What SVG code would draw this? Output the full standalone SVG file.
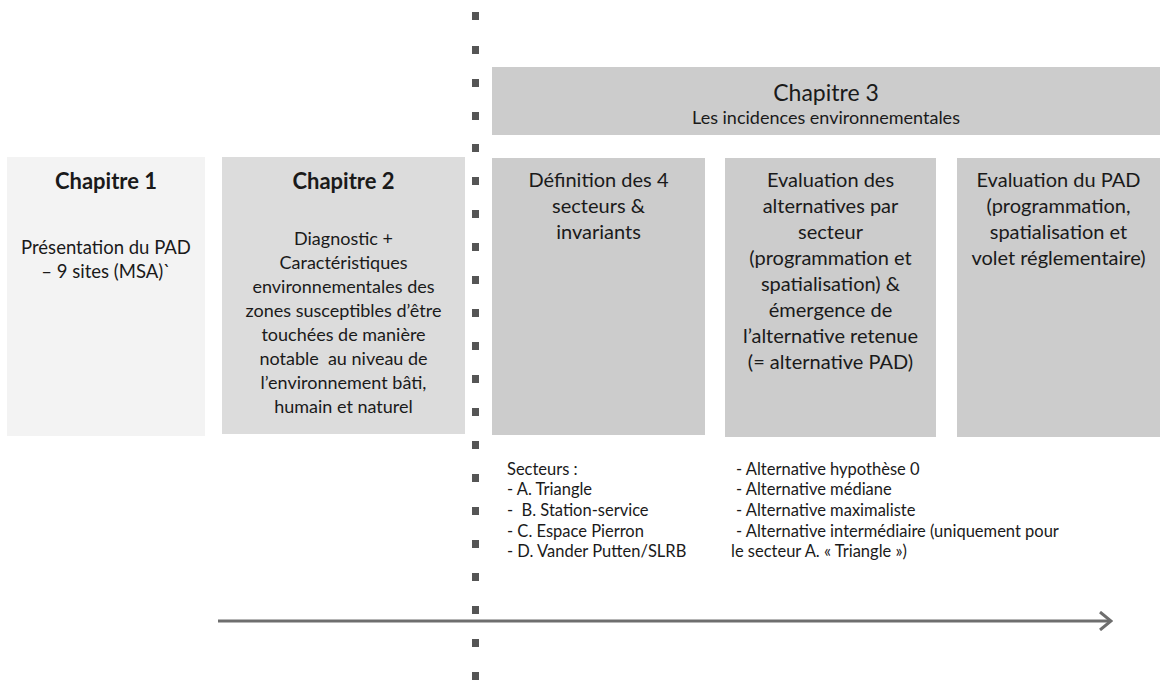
<svg xmlns="http://www.w3.org/2000/svg" width="1160" height="684" viewBox="0 0 1160 684">
<style>
.t{font-family:Lato,"Open Sans","Liberation Sans",sans-serif;fill:#1a1a1a}
.h{font-size:22px;font-weight:bold}
.b{font-size:18px}
.b1{font-size:18.5px}
.c{font-size:20px}
.s{font-size:16.5px}
.m{text-anchor:middle}
.dot{fill:#555}
</style>
<defs>
<marker id="arr" viewBox="0 0 14 20" markerWidth="14" markerHeight="20" refX="12" refY="10" orient="auto" markerUnits="userSpaceOnUse">
<path d="M1,1 L12,10 L1,19" fill="none" stroke="#6e6e6e" stroke-width="3"/>
</marker>
</defs>
<rect width="1160" height="684" fill="#fff"/>
<g id="chapitre1">
<rect x="7" y="157" width="198" height="279" fill="#f3f3f3"/>
<text class="t h m" x="106" y="189">Chapitre 1</text>
<text class="t b1 m" x="106" y="254">Présentation du PAD</text>
<text class="t b1 m" x="106" y="278">– 9 sites (MSA)`</text>
</g>
<g id="chapitre2">
<rect x="222" y="157" width="243" height="277" fill="#dcdcdc"/>
<text class="t h m" x="343.5" y="189">Chapitre 2</text>
<text class="t b m" x="343.5" y="245">Diagnostic +</text>
<text class="t b m" x="343.5" y="269">Caractéristiques</text>
<text class="t b m" x="343.5" y="293">environnementales des</text>
<text class="t b m" x="343.5" y="317">zones susceptibles d’être</text>
<text class="t b m" x="343.5" y="341">touchées de manière</text>
<text class="t b m" x="343.5" y="365" xml:space="preserve">notable  au niveau de</text>
<text class="t b m" x="343.5" y="389">l’environnement bâti,</text>
<text class="t b m" x="343.5" y="413">humain et naturel</text>
</g>
<g id="chapitre3">
<rect x="492" y="67" width="668" height="68" fill="#cccccc"/>
<text class="t m" x="826" y="101" style="font-size:23px">Chapitre 3</text>
<text class="t b m" x="826" y="124">Les incidences environnementales</text>
</g>
<g id="definition">
<rect x="492" y="158" width="213" height="277" fill="#cccccc"/>
<text class="t c m" x="598.5" y="187">Définition des 4</text>
<text class="t c m" x="598.5" y="213">secteurs &amp;</text>
<text class="t c m" x="598.5" y="239">invariants</text>
</g>
<g id="evaluation-alternatives">
<rect x="725" y="158" width="211" height="279" fill="#cccccc"/>
<text class="t c m" x="830.5" y="187">Evaluation des</text>
<text class="t c m" x="830.5" y="213">alternatives par</text>
<text class="t c m" x="830.5" y="239">secteur</text>
<text class="t c m" x="830.5" y="265">(programmation et</text>
<text class="t c m" x="830.5" y="291">spatialisation) &amp;</text>
<text class="t c m" x="830.5" y="317">émergence de</text>
<text class="t c m" x="830.5" y="343">l’alternative retenue</text>
<text class="t c m" x="830.5" y="369">(= alternative PAD)</text>
</g>
<g id="evaluation-pad">
<rect x="957" y="158" width="203" height="279" fill="#cccccc"/>
<text class="t c m" x="1058.5" y="187">Evaluation du PAD</text>
<text class="t c m" x="1058.5" y="213">(programmation,</text>
<text class="t c m" x="1058.5" y="239">spatialisation et</text>
<text class="t c m" x="1058.5" y="265">volet réglementaire)</text>
</g>
<g id="secteurs">
<text class="t s" x="507" y="475">Secteurs :</text>
<text class="t s" x="507" y="495">- A. Triangle</text>
<text class="t s" x="507" y="516" xml:space="preserve">-  B. Station-service</text>
<text class="t s" x="507" y="537">- C. Espace Pierron</text>
<text class="t s" x="507" y="557">- D. Vander Putten/SLRB</text>
</g>
<g id="alternatives">
<text class="t s" x="736" y="475">- Alternative hypothèse 0</text>
<text class="t s" x="736" y="495">- Alternative médiane</text>
<text class="t s" x="736" y="516">- Alternative maximaliste</text>
<text class="t s" x="736" y="537">- Alternative intermédiaire (uniquement pour</text>
<text class="t s" x="731" y="557">le secteur A. « Triangle »)</text>
</g>
<g id="connectors">
<g id="separator">
<rect class="dot" x="472" y="12" width="7" height="8"/>
<rect class="dot" x="472" y="46" width="7" height="8"/>
<rect class="dot" x="472" y="79" width="7" height="8"/>
<rect class="dot" x="472" y="112" width="7" height="8"/>
<rect class="dot" x="472" y="144" width="7" height="8"/>
<rect class="dot" x="472" y="177" width="7" height="8"/>
<rect class="dot" x="472" y="210" width="7" height="8"/>
<rect class="dot" x="472" y="243" width="7" height="8"/>
<rect class="dot" x="472" y="276" width="7" height="8"/>
<rect class="dot" x="472" y="309" width="7" height="8"/>
<rect class="dot" x="472" y="342" width="7" height="8"/>
<rect class="dot" x="472" y="375" width="7" height="8"/>
<rect class="dot" x="472" y="408" width="7" height="8"/>
<rect class="dot" x="472" y="441" width="7" height="8"/>
<rect class="dot" x="472" y="474" width="7" height="8"/>
<rect class="dot" x="472" y="507" width="7" height="8"/>
<rect class="dot" x="472" y="540" width="7" height="8"/>
<rect class="dot" x="472" y="573" width="7" height="8"/>
<rect class="dot" x="472" y="606" width="7" height="8"/>
<rect class="dot" x="472" y="639" width="7" height="8"/>
<rect class="dot" x="472" y="672" width="7" height="8"/>
</g>
<line id="timeline" x1="218" y1="621" x2="1111" y2="621" stroke="#6e6e6e" stroke-width="3" marker-end="url(#arr)"/>
</g>
</svg>
